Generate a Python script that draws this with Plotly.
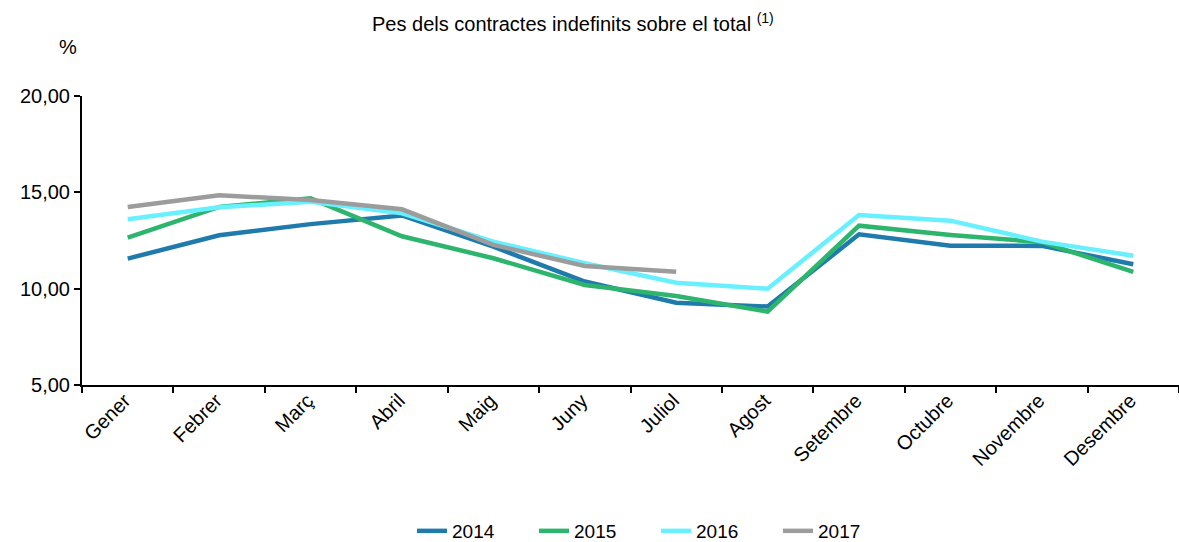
import plotly.graph_objects as go

months = ["Gener", "Febrer", "Març", "Abril", "Maig", "Juny", "Juliol",
          "Agost", "Setembre", "Octubre", "Novembre", "Desembre"]

y2014 = [11.56, 12.77, 13.35, 13.80, 12.18, 10.37, 9.27, 9.07, 12.82, 12.23, 12.22, 11.27]
y2015 = [12.65, 14.24, 14.69, 12.72, 11.58, 10.19, 9.62, 8.81, 13.27, 12.79, 12.41, 10.87]
y2016 = [13.60, 14.22, 14.51, 13.91, 12.44, 11.32, 10.31, 10.00, 13.82, 13.53, 12.44, 11.71]
y2017 = [14.24, 14.85, 14.60, 14.12, 12.27, 11.18, 10.88]

series = [("2014", y2014, "#1f7bab"),
          ("2015", y2015, "#2db56d"),
          ("2016", y2016, "#68f0ff"),
          ("2017", y2017, "#9c9c9c")]

fig = go.Figure()
for name, vals, col in series:
    fig.add_trace(go.Scatter(x=months[:len(vals)], y=vals, name=name, mode="lines",
                             line=dict(color=col, width=4.5)))

font = "Liberation Sans, Arial, sans-serif"
L, T, B = 82, 96, 157
PW, PH = 1179 - L, 542 - T - B
fig.update_layout(
    width=1179, height=542,
    margin=dict(l=L, r=0, t=T, b=B, autoexpand=False),
    paper_bgcolor="white", plot_bgcolor="white",
    separators=",.",
    font=dict(family=font, size=19, color="black"),
    showlegend=True,
    legend=dict(orientation="h", x=(412 - L) / PW, xanchor="left",
                yref="container", y=1 - 531 / 542, yanchor="middle",
                font=dict(size=19), entrywidth=77, entrywidthmode="pixels",
                bgcolor="rgba(0,0,0,0)"),
    annotations=[
        dict(text="Pes dels contractes indefinits sobre el total <sup>(1)</sup>",
             xref="paper", yref="paper", x=(573 - L) / PW, y=1 + (T - 22) / PH,
             xanchor="center", yanchor="middle", showarrow=False, font=dict(size=20)),
        dict(text="%", xref="paper", yref="paper", x=(68 - L) / PW, y=1 + (T - 47) / PH,
             xanchor="center", yanchor="middle", showarrow=False, font=dict(size=20)),
    ],
)
fig.update_xaxes(type="category", range=[-0.5, 11.5], showline=True, linecolor="black",
                 linewidth=2, ticks="outside", tickson="boundaries", ticklen=6,
                 tickwidth=2, tickcolor="black", tickangle=-45, showgrid=False,
                 zeroline=False, tickfont=dict(size=20), automargin=False,
                 ticklabelstandoff=-6, ticklabelshift=-3)
fig.update_yaxes(range=[5, 20], tickvals=[5, 10, 15, 20], tickformat=".2f",
                 showline=True, linecolor="black", linewidth=2, ticks="outside",
                 ticklen=6, tickwidth=2, tickcolor="black", showgrid=False,
                 zeroline=False, tickfont=dict(size=20), automargin=False)

fig.write_html("out.html", config={"displayModeBar": False},
               post_script="document.body.style.margin='0';document.body.style.overflow='hidden';")
